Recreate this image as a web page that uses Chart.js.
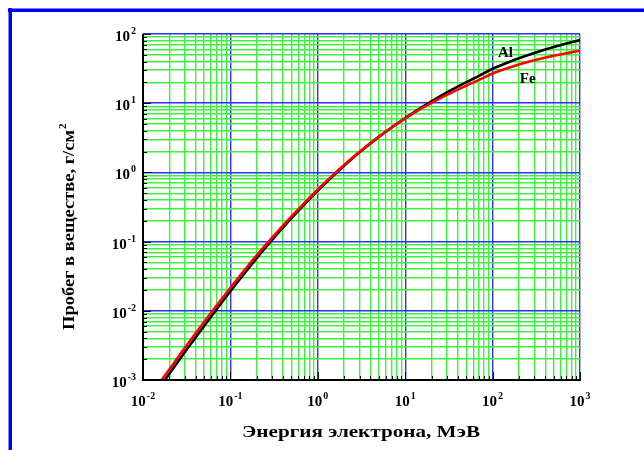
<!DOCTYPE html>
<html>
<head>
<meta charset="utf-8">
<script src="https://cdn.jsdelivr.net/npm/chart.js@4.4.1/dist/chart.umd.min.js"></script>
<style>
    html, body { margin: 0; padding: 0; background: #fff; }
    #wrap { width: 644px; height: 450px; }
</style>
</head>
<body>
<div id="wrap"><canvas id="range-chart" width="644" height="450"></canvas></div>
<script>
// Electron energy, MeV
const energies = [0.015, 0.02, 0.03, 0.05, 0.07, 0.1, 0.15, 0.2, 0.3, 0.5, 0.7,
    1, 1.5, 2, 3, 5, 7, 10, 15, 20, 30, 50, 70, 100, 150, 200, 300, 500, 700, 1000];

// Range in material, g/cm2
const rangeAl = [7.38e-4, 1.23e-3, 2.51e-3, 6.05e-3, 1.064e-2, 0.0192, 0.0367, 0.0574, 0.1054, 0.218, 0.343,
    0.545, 0.894, 1.25, 1.95, 3.26, 4.46, 6.10, 8.5, 10.6, 14.3, 20.1, 24.9, 31.5, 38.8, 44.6, 53.3, 65.0, 73.1, 81.8];
const rangeFe = [8.56e-4, 1.42e-3, 2.89e-3, 6.90e-3, 1.20e-2, 0.0215, 0.0407, 0.0631, 0.1138, 0.231, 0.360,
    0.567, 0.921, 1.281, 1.99, 3.29, 4.46, 6.04, 8.29, 10.12, 13.2, 17.9, 21.7, 26.9, 32.2, 36.1, 41.6, 48.4, 52.6, 57.3];

// Axis decades (powers of ten)
const xDecades = [-2, -1, 0, 1, 2, 3];
const yDecades = [-3, -2, -1, 0, 1, 2];

const xTitle = 'Энергия электрона, МэВ';
const yTitle = 'Пробег в веществе, г/см';
const yTitleSup = '2';
const seriesNames = ['Al', 'Fe'];

// Colors
const GRID_MAJOR = '#2f2fff';
const GRID_MINOR = '#3cf23c';
const FRAME_BLUE = '#0000ff';
const FONT = '"Liberation Serif", "Times New Roman", serif';

/**
 * Build 1..9 x 10^n tick values for every decade
 */
function decadeTicks(decades) {
    const ticks = [];
    decades.forEach((d, i) => {
        const last = i === decades.length - 1;
        for (let m = 1; m <= (last ? 1 : 9); m++) {
            ticks.push({ value: m * Math.pow(10, d), major: m === 1 });
        }
    });
    return ticks;
}

function gridColor(c) {
    if (!c.tick) return GRID_MINOR;
    return c.tick.major ? GRID_MAJOR : GRID_MINOR;
}

/**
 * Draw "10" with a raised exponent
 */
function drawPower(ctx, exp, x, y, align) {
    ctx.font = 'bold 15px ' + FONT;
    const base = '10';
    const wBase = ctx.measureText(base).width;
    ctx.font = 'bold 10px ' + FONT;
    const sup = exp < 0 ? '-' + Math.abs(exp) : String(exp);
    const wSup = ctx.measureText(sup).width;
    const total = wBase + 1 + wSup;
    let left = x;
    if (align === 'center') left = x - total / 2;
    if (align === 'right') left = x - total;
    ctx.textAlign = 'left';
    ctx.textBaseline = 'alphabetic';
    ctx.font = 'bold 15px ' + FONT;
    ctx.fillText(base, left, y);
    ctx.font = 'bold 10px ' + FONT;
    ctx.fillText(sup, left + wBase + 1, y - 7);
}

/**
 * Draw text stretched horizontally to a given width
 */
function fillStretched(ctx, text, x, y, width) {
    const w = ctx.measureText(text).width;
    ctx.save();
    ctx.translate(x, y);
    ctx.scale(width / w, 1);
    ctx.textAlign = 'left';
    ctx.fillText(text, 0, 0);
    ctx.restore();
}

const decorPlugin = {
    id: 'decor',
    afterDraw(chart) {
        const ctx = chart.ctx;
        const area = chart.chartArea;
        const xs = chart.scales.x;
        const ys = chart.scales.y;
        ctx.save();
        ctx.fillStyle = '#000';
        ctx.strokeStyle = '#000';

        // Inner tick marks on left and bottom axes
        ctx.lineWidth = 1;
        ys.ticks.forEach(t => {
            const py = Math.round(ys.getPixelForValue(t.value)) + 0.5;
            const len = t.major ? 8 : 4;
            ctx.beginPath();
            ctx.moveTo(area.left, py);
            ctx.lineTo(area.left + len, py);
            ctx.stroke();
        });
        xs.ticks.forEach(t => {
            const px = Math.round(xs.getPixelForValue(t.value)) + 0.5;
            const len = t.major ? 8 : 4;
            ctx.beginPath();
            ctx.moveTo(px, area.bottom);
            ctx.lineTo(px, area.bottom - len);
            ctx.stroke();
        });

        // Axis lines
        ctx.lineWidth = 2;
        ctx.beginPath();
        ctx.moveTo(area.left, area.top);
        ctx.lineTo(area.left, area.bottom);
        ctx.lineTo(area.right + 1, area.bottom);
        ctx.stroke();

        // Tick labels
        yDecades.forEach(d => {
            const py = ys.getPixelForValue(Math.pow(10, d));
            drawPower(ctx, d, area.left - 7, py + 7, 'right');
        });
        xDecades.forEach(d => {
            const px = xs.getPixelForValue(Math.pow(10, d));
            drawPower(ctx, d, px, area.bottom + 26, 'center');
        });

        // Axis titles
        ctx.font = 'bold 17.5px ' + FONT;
        ctx.textBaseline = 'alphabetic';
        fillStretched(ctx, xTitle, 242, 437, 238);

        ctx.save();
        ctx.translate(74, 330);
        ctx.rotate(-Math.PI / 2);
        ctx.font = 'bold 17.5px ' + FONT;
        fillStretched(ctx, yTitle, 0, 0, 200);
        ctx.font = 'bold 11px ' + FONT;
        ctx.textAlign = 'left';
        ctx.fillText(yTitleSup, 201, -8);
        ctx.restore();

        // Series names
        ctx.font = 'bold 15px ' + FONT;
        ctx.textAlign = 'left';
        ctx.fillText(seriesNames[0], xs.getPixelForValue(115), ys.getPixelForValue(46.5));
        ctx.fillText(seriesNames[1], xs.getPixelForValue(205), ys.getPixelForValue(19.6));

        // Blue frame (top and left)
        ctx.fillStyle = FRAME_BLUE;
        ctx.fillRect(8, 8.5, 636, 3.5);
        ctx.fillRect(8.5, 8, 3.5, 442);
        ctx.restore();
    }
};

const ctx = document.getElementById('range-chart').getContext('2d');

new Chart(ctx, {
    type: 'line',
    data: {
        datasets: [
            {
                label: seriesNames[0],
                data: energies.map((e, i) => ({ x: e, y: rangeAl[i] })),
                borderColor: '#000',
                borderWidth: 2.6,
                pointRadius: 0,
                cubicInterpolationMode: 'monotone',
                order: 1
            },
            {
                label: seriesNames[1],
                data: energies.map((e, i) => ({ x: e, y: rangeFe[i] })),
                borderColor: '#ff0000',
                borderWidth: 2.6,
                pointRadius: 0,
                cubicInterpolationMode: 'monotone',
                order: 0
            }
        ]
    },
    options: {
        responsive: false,
        animation: false,
        layout: {
            padding: { left: 143, top: 34, right: 64, bottom: 70 }
        },
        plugins: {
            legend: { display: false },
            tooltip: { enabled: false }
        },
        scales: {
            x: {
                type: 'logarithmic',
                min: Math.pow(10, xDecades[0]),
                max: Math.pow(10, xDecades[xDecades.length - 1]),
                afterBuildTicks: scale => { scale.ticks = decadeTicks(xDecades); },
                ticks: { display: false },
                border: { display: false },
                grid: { drawTicks: false, lineWidth: 1.4, color: gridColor }
            },
            y: {
                type: 'logarithmic',
                min: Math.pow(10, yDecades[0]),
                max: Math.pow(10, yDecades[yDecades.length - 1]),
                afterBuildTicks: scale => { scale.ticks = decadeTicks(yDecades); },
                ticks: { display: false },
                border: { display: false },
                grid: { drawTicks: false, lineWidth: 1.4, color: gridColor }
            }
        }
    },
    plugins: [decorPlugin]
});
</script>
</body>
</html>
